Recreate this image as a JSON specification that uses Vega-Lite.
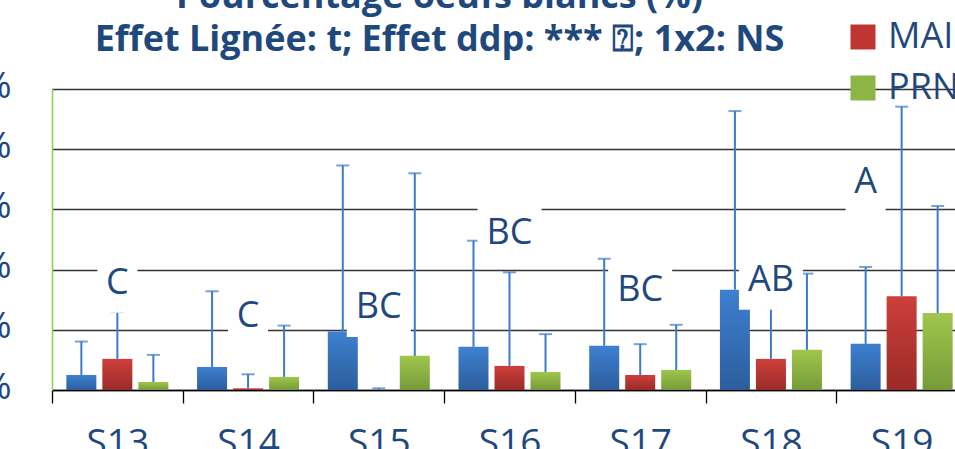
{
  "$schema": "https://vega.github.io/schema/vega-lite/v6.json",
  "autosize": {"type": "none"},
  "padding": {"left": 52, "top": 89, "right": 0, "bottom": 59},
  "width": 903,
  "height": 301,
  "background": "white",
  "title": {
    "text": ["Pourcentage oeufs blancs (%)", "Effet Lignée: t; Effet ddp: *** ⍰; 1x2: NS"],
    "font": "Open Sans",
    "fontSize": 36,
    "fontWeight": "bold",
    "color": "#1F497D",
    "lineHeight": 43,
    "anchor": "middle",
    "frame": "group",
    "dx": -64,
    "baseline": "alphabetic",
    "offset": -119
  },
  "datasets": {
    "bars": [
      {"line": "S13", "group": "FEV", "mean": 2.5, "upper": 8.05},
      {"line": "S13", "group": "MAI", "mean": 5.17, "upper": 12.95},
      {"line": "S13", "group": "PRN", "mean": 1.33, "upper": 5.83},
      {"line": "S14", "group": "FEV", "mean": 3.83, "upper": 16.4},
      {"line": "S14", "group": "MAI", "mean": 0.28, "upper": 2.61},
      {"line": "S14", "group": "PRN", "mean": 2.17, "upper": 10.7},
      {"line": "S15", "group": "FEV", "mean": 9.72, "upper": 37.3},
      {"line": "S15", "group": "MAI", "mean": 0, "upper": 0.28},
      {"line": "S15", "group": "PRN", "mean": 5.67, "upper": 36.0},
      {"line": "S16", "group": "FEV", "mean": 7.17, "upper": 24.8},
      {"line": "S16", "group": "MAI", "mean": 4.0, "upper": 19.55},
      {"line": "S16", "group": "PRN", "mean": 3.0, "upper": 9.28},
      {"line": "S17", "group": "FEV", "mean": 7.33, "upper": 21.8},
      {"line": "S17", "group": "MAI", "mean": 2.5, "upper": 7.61},
      {"line": "S17", "group": "PRN", "mean": 3.33, "upper": 10.83},
      {"line": "S18", "group": "FEV", "mean": 16.67, "upper": 46.33},
      {"line": "S18", "group": "MAI", "mean": 5.17, "upper": 13.6},
      {"line": "S18", "group": "PRN", "mean": 6.67, "upper": 19.33},
      {"line": "S19", "group": "FEV", "mean": 7.67, "upper": 20.44},
      {"line": "S19", "group": "MAI", "mean": 15.56, "upper": 47.06},
      {"line": "S19", "group": "PRN", "mean": 12.78, "upper": 30.56}
    ],
    "labels": [
      {"line": "S13", "group": "MAI", "label": "C", "pos": 17.8},
      {"line": "S14", "group": "MAI", "label": "C", "pos": 12.3},
      {"line": "S15", "group": "MAI", "label": "BC", "pos": 13.8},
      {"line": "S16", "group": "MAI", "label": "BC", "pos": 26.1},
      {"line": "S17", "group": "MAI", "label": "BC", "pos": 16.6},
      {"line": "S18", "group": "MAI", "label": "AB", "pos": 18.3},
      {"line": "S19", "group": "FEV", "label": "A", "pos": 34.6}
    ]
  },
  "encoding": {
    "x": {
      "field": "line",
      "type": "nominal",
      "sort": ["S13", "S14", "S15", "S16", "S17", "S18", "S19"],
      "scale": {"range": [0, 915], "paddingInner": 0, "paddingOuter": 0},
      "axis": {
        "title": null,
        "labelAngle": 0,
        "labelFont": "Open Sans",
        "labelFontSize": 37,
        "labelColor": "#1F497D",
        "labelPadding": 22,
        "tickBand": "extent",
        "tickSize": 13,
        "tickColor": "#000000",
        "tickWidth": 1.3,
        "domainColor": "#000000",
        "domainWidth": 1.3,
        "grid": false
      }
    },
    "xOffset": {
      "field": "group",
      "type": "nominal",
      "sort": ["FEV", "MAI", "PRN"],
      "scale": {"paddingInner": 0.1667, "paddingOuter": 0.3986}
    }
  },
  "layer": [
    {
      "data": {"name": "bars"},
      "mark": {"type": "bar"},
      "encoding": {
        "y": {
          "field": "mean",
          "type": "quantitative",
          "scale": {"domain": [0, 50], "nice": false},
          "axis": {
            "title": null,
            "values": [0, 10, 20, 30, 40, 50],
            "labelExpr": "datum.value + '%'",
            "labelFont": "Open Sans",
            "labelFontSize": 37,
            "labelColor": "#1F497D",
            "labelPadding": 41,
            "labelOffset": -3,
            "ticks": false,
            "domainColor": "#92D050",
            "domainWidth": 1.6,
            "grid": true,
            "gridColor": "#333333",
            "gridWidth": 1.4
          }
        },
        "color": {
          "field": "group",
          "type": "nominal",
          "scale": {"domain": ["FEV", "MAI", "PRN"], "range": ["#3770BA", "#BE3531", "#8DB545"]},
          "legend": {
            "title": null,
            "orient": "none",
            "legendX": 793,
            "legendY": -121,
            "padding": 0,
            "symbolType": "square",
            "symbolSize": 625,
            "symbolStrokeWidth": 0,
            "labelFont": "Open Sans",
            "labelFontSize": 36,
            "labelColor": "#1F497D",
            "labelOffset": 7,
            "rowPadding": 15
          },
          "condition": [
            {"test": "datum.group === 'FEV'", "value": {"gradient": "linear", "x1": 0, "y1": 0, "x2": 0, "y2": 1, "stops": [{"offset": 0, "color": "#3E80D0"}, {"offset": 1, "color": "#2C5E9D"}]}},
            {"test": "datum.group === 'MAI'", "value": {"gradient": "linear", "x1": 0, "y1": 0, "x2": 0, "y2": 1, "stops": [{"offset": 0, "color": "#CE3F3B"}, {"offset": 1, "color": "#9A2B28"}]}},
            {"test": "datum.group === 'PRN'", "value": {"gradient": "linear", "x1": 0, "y1": 0, "x2": 0, "y2": 1, "stops": [{"offset": 0, "color": "#9EC74C"}, {"offset": 1, "color": "#779A39"}]}}
          ]
        }
      }
    },
    {
      "data": {"name": "bars"},
      "mark": {"type": "rule", "color": "#3C7ACB", "strokeWidth": 2},
      "encoding": {
        "y": {"field": "mean", "type": "quantitative"},
        "y2": {"field": "upper"}
      }
    },
    {
      "data": {"name": "bars"},
      "mark": {"type": "tick", "color": "#3C7ACB", "size": 13, "thickness": 2, "orient": "horizontal"},
      "encoding": {
        "y": {"field": "upper", "type": "quantitative"}
      }
    },
    {
      "data": {"name": "labels"},
      "transform": [{"filter": "length(datum.label) > 1"}],
      "mark": {"type": "point", "shape": "M-1,-0.9375H1V0.9375H-1Z", "size": 4096, "filled": true, "color": "white", "opacity": 1, "strokeWidth": 0},
      "encoding": {
        "y": {"field": "pos", "type": "quantitative"}
      }
    },
    {
      "data": {"name": "labels"},
      "transform": [{"filter": "length(datum.label) === 1"}],
      "mark": {"type": "point", "shape": "M-1,-1.5H1V1.5H-1Z", "size": 1600, "filled": true, "color": "white", "opacity": 1, "strokeWidth": 0},
      "encoding": {
        "y": {"field": "pos", "type": "quantitative"}
      }
    },
    {
      "data": {"name": "labels"},
      "mark": {"type": "text", "font": "Open Sans", "fontSize": 36, "color": "#1F497D", "baseline": "middle", "align": "center"},
      "encoding": {
        "y": {"field": "pos", "type": "quantitative"},
        "text": {"field": "label"}
      }
    }
  ]
}
